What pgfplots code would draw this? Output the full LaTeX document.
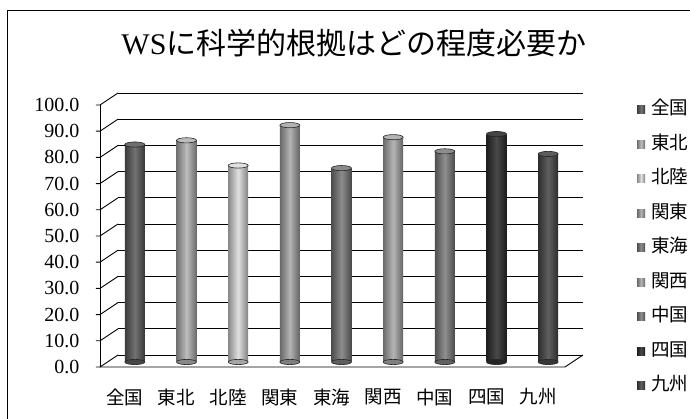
\documentclass[border=0pt]{standalone}
\usepackage{fontspec}
\setmainfont{Liberation Serif}
\newfontfamily\jp{Noto Sans CJK JP}
\usepackage{pgfplots}
\pgfplotsset{compat=1.18}

% elliptical cap for the cylinders
\pgfdeclareplotmark{cyltop}{%
  \pgfpathellipse{\pgfpointorigin}{\pgfqpoint{10pt}{0pt}}{\pgfqpoint{0pt}{2.6pt}}%
  \pgfusepathqfillstroke}

\definecolor{cZenkoku}{HTML}{5F5F5F}
\definecolor{cTohoku}{HTML}{B5B5B5}
\definecolor{cHokuriku}{HTML}{DCDCDC}
\definecolor{cKanto}{HTML}{A9A9A9}
\definecolor{cTokai}{HTML}{7D7D7D}
\definecolor{cKansai}{HTML}{ABABAB}
\definecolor{cChugoku}{HTML}{808080}
\definecolor{cShikoku}{HTML}{303030}
\definecolor{cKyushu}{HTML}{4A4A4A}

\pgfplotsset{
  cyl/.style={ybar, bar width=20pt, bar shift=0pt, xshift=-9pt, yshift=-7pt,
    draw=none, left color=#1!62!black, right color=#1!58!black,
    middle color=#1!88!white,
    mark=cyltop, mark options={fill=#1!90!white, draw=black!85, line width=0.6pt}},
  cylbase/.style={forget plot, only marks, xshift=-9pt, yshift=-7pt,
    mark=cyltop, mark options={fill=#1!75!black, draw=black!85, line width=0.6pt}},
}

\begin{document}
\begin{tikzpicture}
\useasboundingbox (0,0) rectangle (690pt,419pt);
\draw[line width=0.8pt] (7pt,0pt) -- (7pt,409pt) -- (690pt,409pt);
\begin{axis}[
  at={(118pt,64pt)}, anchor=south west, scale only axis,
  width=465pt, height=262pt,
  xmin=-0.5, xmax=8.5, ymin=0, ymax=100,
  clip=false,
  axis line style={draw=none}, tick style={draw=none},
  xtick={0,...,8},
  xticklabels={全国,東北,北陸,関東,東海,関西,中国,四国,九州},
  xticklabel style={font=\jp\fontsize{18.5}{18.5}\selectfont, anchor=center, xshift=-19pt, yshift=-42pt},
  ytick={0,10,...,100},
  yticklabel style={font=\fontsize{20}{20}\selectfont, anchor=east, xshift=-35pt, yshift=-12pt},
  /pgf/number format/.cd, fixed, fixed zerofill, precision=1, assume math mode=true, /pgfplots/.cd,
  ymajorgrids, grid style={black, line width=0.9pt},
  title={{\rmfamily WS}に科学的根拠はどの程度必要か},
  title style={font=\jp\fontsize{30}{30}\selectfont, at={(axis description cs:0.5075,1.168)}, anchor=center},
  legend image code/.code={\fill[#1, xshift=9pt, yshift=7pt] (0pt,-4pt) rectangle (8pt,4pt);},
  legend style={draw=none, fill=none, inner sep=0pt, anchor=north west,
    at={(axis description cs:1.116,0.975)},
    font=\jp\fontsize{18.5}{18.5}\selectfont, row sep=14.5pt,
    nodes={text height=13pt, text depth=3pt, inner sep=2pt},
    /tikz/every odd column/.append style={column sep=4pt}},
]
% bases of the cylinders
\addplot[cylbase=cZenkoku]  coordinates {(0,0)};
\addplot[cylbase=cTohoku]   coordinates {(1,0)};
\addplot[cylbase=cHokuriku] coordinates {(2,0)};
\addplot[cylbase=cKanto]    coordinates {(3,0)};
\addplot[cylbase=cTokai]    coordinates {(4,0)};
\addplot[cylbase=cKansai]   coordinates {(5,0)};
\addplot[cylbase=cChugoku]  coordinates {(6,0)};
\addplot[cylbase=cShikoku]  coordinates {(7,0)};
\addplot[cylbase=cKyushu]   coordinates {(8,0)};
% one cylinder per region
\addplot[cyl=cZenkoku]  coordinates {(0,83.0)};
\addplot[cyl=cTohoku]   coordinates {(1,84.6)};
\addplot[cyl=cHokuriku] coordinates {(2,75.0)};
\addplot[cyl=cKanto]    coordinates {(3,90.4)};
\addplot[cyl=cTokai]    coordinates {(4,74.0)};
\addplot[cyl=cKansai]   coordinates {(5,85.8)};
\addplot[cyl=cChugoku]  coordinates {(6,80.4)};
\addplot[cyl=cShikoku]  coordinates {(7,87.0)};
\addplot[cyl=cKyushu]   coordinates {(8,79.4)};
\legend{全国,東北,北陸,関東,東海,関西,中国,四国,九州}
% front axis, side-wall diagonals and floor
\draw[line width=0.9pt] (axis cs:-0.5,0) ++(-18pt,-12pt) -- ++(0pt,262pt);
\pgfplotsinvokeforeach{0,10,...,100}{
  \draw[line width=0.9pt] (axis cs:-0.5,#1) -- ++(-18pt,-12pt) -- ++(-4pt,0pt);
}
\draw[line width=0.9pt] (axis cs:8.5,0) -- ++(-18pt,-12pt) -- ++(-465pt,0pt);
\end{axis}
\end{tikzpicture}
\end{document}
